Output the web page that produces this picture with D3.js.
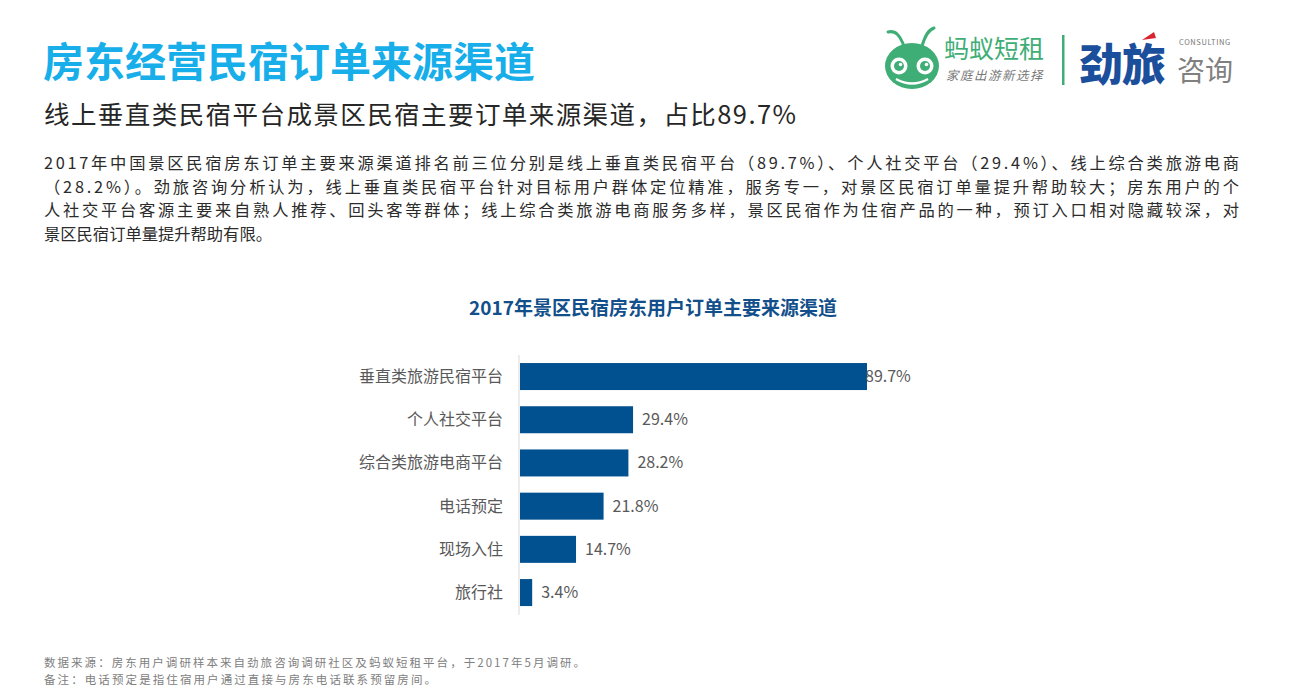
<!DOCTYPE html>
<html><head><meta charset="utf-8">
<script src="https://cdn.jsdelivr.net/npm/d3@7"></script>
<style>
html,body{margin:0;padding:0;background:#fff;}
svg{display:block;font-family:"Microsoft YaHei","Noto Sans CJK SC","Noto Sans",sans-serif;}
</style></head>
<body><svg id="c" width="1294" height="693"></svg>
<script>
const categories = ["垂直类旅游民宿平台","个人社交平台","综合类旅游电商平台","电话预定","现场入住","旅行社"];
const values = [89.7, 29.4, 28.2, 21.8, 14.7, 3.4];
const valueLabels = ["89.7%","29.4%","28.2%","21.8%","14.7%","3.4%"];
const mainTitle = "房东经营民宿订单来源渠道";
const subTitle = "线上垂直类民宿平台成景区民宿主要订单来源渠道，占比89.7%";
const paragraph = [
  "2017年中国景区民宿房东订单主要来源渠道排名前三位分别是线上垂直类民宿平台（89.7%）、个人社交平台（29.4%）、线上综合类旅游电商",
  "（28.2%）。劲旅咨询分析认为，线上垂直类民宿平台针对目标用户群体定位精准，服务专一，对景区民宿订单量提升帮助较大；房东用户的个",
  "人社交平台客源主要来自熟人推荐、回头客等群体；线上综合类旅游电商服务多样，景区民宿作为住宿产品的一种，预订入口相对隐藏较深，对",
  "景区民宿订单量提升帮助有限。"
];
const chartTitle = "2017年景区民宿房东用户订单主要来源渠道";
const footnotes = ["数据来源：房东用户调研样本来自劲旅咨询调研社区及蚂蚁短租平台，于2017年5月调研。","备注：电话预定是指住宿用户通过直接与房东电话联系预留房间。"];

const svg = d3.select("#c");

// Titles
svg.append("text").attr("x",43).attr("y",77).attr("font-size",41).attr("font-weight","bold")
  .attr("fill","#17aeea").text(mainTitle);
svg.append("text").attr("x",44).attr("y",124).attr("font-size",25.5).attr("fill","#262626")
  .attr("textLength",752).attr("lengthAdjust","spacing").text(subTitle);

paragraph.forEach((t,i)=>{
  const el = svg.append("text").attr("x",44).attr("y",169+i*23.6).attr("font-size",16.3).attr("fill","#2b2b2b").text(t);
  if(i<3) el.attr("textLength",1195).attr("lengthAdjust","spacing");
});

// Logo
const logo = svg.append("g");
const green = "#3fae76";
logo.append("path").attr("d","M904,46 C900,36 896,30 888,32").attr("fill","none").attr("stroke",green).attr("stroke-width",3).attr("stroke-linecap","round");
logo.append("path").attr("d","M922,46 C925,36 928,30 934,28").attr("fill","none").attr("stroke",green).attr("stroke-width",3).attr("stroke-linecap","round");
logo.append("ellipse").attr("cx",912).attr("cy",66).attr("rx",27).attr("ry",23).attr("fill",green);
[[899,66],[925,66]].forEach(([x,y])=>{
  logo.append("circle").attr("cx",x).attr("cy",y).attr("r",8.5).attr("fill","#fff");
  logo.append("circle").attr("cx",x).attr("cy",y).attr("r",5).attr("fill",green);
  logo.append("circle").attr("cx",x+1.5).attr("cy",y-1.5).attr("r",1.8).attr("fill","#fff");
});
logo.append("path").attr("d","M896,79 Q912,88 928,79").attr("fill","none").attr("stroke","#fff").attr("stroke-width",2.5);
logo.append("text").attr("x",944).attr("y",58).attr("font-size",25).attr("fill",green).text("蚂蚁短租");
logo.append("text").attr("x",946).attr("y",80).attr("font-size",12.5).attr("fill","#777").attr("font-style","italic").attr("letter-spacing",1.5).text("家庭出游新选择");
logo.append("rect").attr("x",1062).attr("y",35).attr("width",2.5).attr("height",50).attr("fill",green);
logo.append("text").attr("x",1079).attr("y",81).attr("font-size",44).attr("font-weight","900").attr("fill","#1b4f9c").attr("letter-spacing",-1).text("劲旅");
logo.append("path").attr("d","M1142,40 L1154,32 L1156,38 Z").attr("fill","#d9232e");
logo.append("text").attr("x",1179).attr("y",45).attr("font-size",7.5).attr("fill","#777").attr("letter-spacing",0.6).text("CONSULTING");
logo.append("text").attr("x",1177).attr("y",81).attr("font-size",28).attr("fill","#808080").text("咨询");

// Chart
svg.append("text").attr("x",653).attr("y",315).attr("text-anchor","middle").attr("font-size",19)
  .attr("font-weight","bold").attr("fill","#124f8b").text(chartTitle);

const x = d3.scaleLinear().domain([0,89.7]).range([519,867]);
const y = d3.scaleBand().domain(categories).range([354.4,614.7]).paddingInner(0.375).paddingOuter(0.2);

svg.append("line").attr("x1",519).attr("x2",519).attr("y1",355).attr("y2",615).attr("stroke","#d9d9d9").attr("stroke-width",1);

svg.selectAll("rect.bar").data(categories).join("rect").attr("class","bar")
  .attr("x",x(0)+1).attr("y",d=>y(d)).attr("height",y.bandwidth())
  .attr("width",(d,i)=>x(values[i])-x(0)-1).attr("fill","#01508f");

svg.selectAll("text.cat").data(categories).join("text").attr("class","cat")
  .attr("x",503).attr("y",d=>y(d)+y.bandwidth()/2+5.5).attr("text-anchor","end")
  .attr("font-size",16).attr("fill","#595959").text(d=>d);

svg.selectAll("text.val").data(categories).join("text").attr("class","val")
  .attr("x",(d,i)=>Math.min(x(values[i])+9, 865)).attr("y",d=>y(d)+y.bandwidth()/2+5.5)
  .attr("font-size",16).attr("fill","#595959").text((d,i)=>valueLabels[i]);

const footLen = [541, 392];
footnotes.forEach((t,i)=>{
  svg.append("text").attr("x",44).attr("y",667+i*17).attr("font-size",11.5).attr("fill","#808080")
    .attr("textLength",footLen[i]).attr("lengthAdjust","spacing").text(t);
});
</script></body></html>
